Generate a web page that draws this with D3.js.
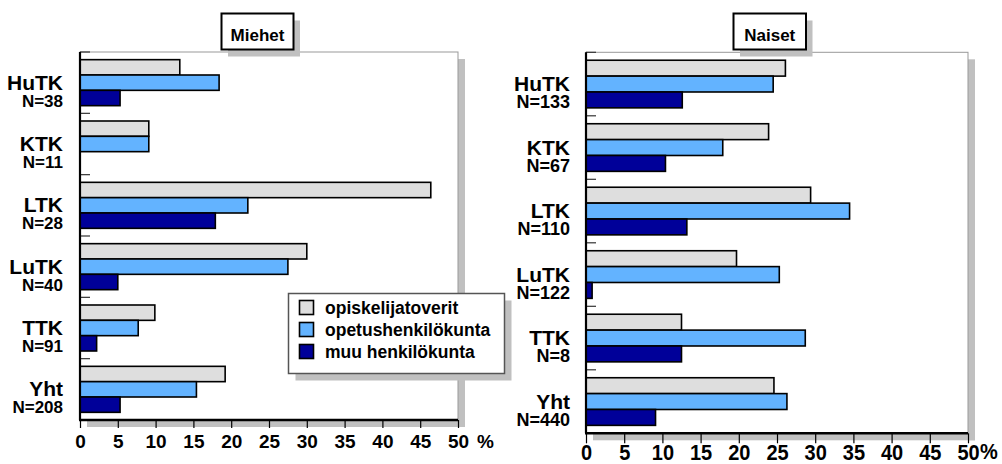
<!DOCTYPE html>
<html>
<head>
<meta charset="utf-8">
<script src="https://cdn.jsdelivr.net/npm/d3@7"></script>
<style>
  html, body { margin: 0; padding: 0; background: #fff; }
  svg { display: block; }
  text { font-family: "Liberation Sans", Arial, Helvetica, sans-serif; font-weight: bold; fill: #000; }
</style>
</head>
<body>
<svg id="chart" width="1002" height="464"></svg>
<script>
// ---- data ----
const categories = ["HuTK", "KTK", "LTK", "LuTK", "TTK", "Yht"];
const nMiehet = ["N=38", "N=11", "N=28", "N=40", "N=91", "N=208"];
const nNaiset = ["N=133", "N=67", "N=110", "N=122", "N=8", "N=440"];
const seriesNames = ["opiskelijatoverit", "opetushenkilökunta", "muu henkilökunta"];
const miehetOpiskelijat = [13.2, 9.1, 46.4, 30.0, 9.9, 19.2];
const miehetOpetus = [18.4, 9.1, 22.2, 27.5, 7.7, 15.4];
const miehetMuu = [5.3, 0, 17.9, 5.0, 2.2, 5.3];
const naisetOpiskelijat = [26.1, 23.9, 29.4, 19.7, 12.5, 24.6];
const naisetOpetus = [24.5, 17.9, 34.5, 25.3, 28.7, 26.3];
const naisetMuu = [12.6, 10.4, 13.2, 0.8, 12.5, 9.1];
const xTicks = [0, 5, 10, 15, 20, 25, 30, 35, 40, 45, 50];
const panelTitles = ["Miehet", "Naiset"];
const colors = ["#dedede", "#63b3ff", "#000099"];

const svg = d3.select("#chart");
const shadow = "#c0c0c0";

const panels = [
  { title: panelTitles[0], n: nMiehet, series: [miehetOpiskelijat, miehetOpetus, miehetMuu],
    x0: 80, x1: 458, y0: 52, y1: 420, labelX: 63,
    box: { x: 221.5, y: 13.5, w: 72, h: 36 },
    nameSize: 21, nSize: 17, tickSize: 19, tickLen: 8, tickBase: 448, pctX: 477, tickScaleY: 1 },
  { title: panelTitles[1], n: nNaiset, series: [naisetOpiskelijat, naisetOpetus, naisetMuu],
    x0: 586, x1: 968, y0: 52.3, y1: 433.3, labelX: 570,
    box: { x: 733.5, y: 13.5, w: 72.5, h: 36 },
    nameSize: 21, nSize: 18, tickSize: 20, tickLen: 10, tickBase: 459.5, pctX: 980, tickScaleY: 1.12 }
];

panels.forEach(p => {
  const g = svg.append("g");
  const x = d3.scaleLinear().domain([0, 50]).range([p.x0, p.x1]);
  const y = d3.scaleBand().domain(categories).range([p.y0, p.y1]).paddingInner(0.25).paddingOuter(0.125);
  const ySub = d3.scaleBand().domain(d3.range(3)).range([0, y.bandwidth()]);
  const step = y.step();

  // shadows
  g.append("rect").attr("x", p.x1).attr("y", p.y0 + 7).attr("width", 7).attr("height", p.y1 - p.y0)
    .attr("fill", shadow);
  g.append("rect").attr("x", p.x0 + 7).attr("y", p.y1).attr("width", p.x1 - p.x0).attr("height", 7)
    .attr("fill", shadow);
  // plot background & frame
  g.append("rect").attr("x", p.x0).attr("y", p.y0).attr("width", p.x1 - p.x0).attr("height", p.y1 - p.y0)
    .attr("fill", "#fff").attr("stroke", "#999").attr("stroke-width", 1);

  // bars
  const rows = [];
  categories.forEach((c, i) => {
    p.series.forEach((s, k) => { if (s[i] > 0) rows.push({ c, k, v: s[i] }); });
  });
  g.selectAll("rect.bar").data(rows).join("rect").attr("class", "bar")
    .attr("x", x(0))
    .attr("y", d => y(d.c) + ySub(d.k))
    .attr("width", d => x(d.v) - x(0))
    .attr("height", ySub.bandwidth())
    .attr("fill", d => colors[d.k])
    .attr("stroke", "#000").attr("stroke-width", 1.6);

  // category ticks on left axis
  g.selectAll("line.ctick").data(categories).join("line").attr("class", "ctick")
    .attr("x1", p.x0).attr("x2", p.x0 + 10)
    .attr("y1", c => y(c) - y.paddingOuter() * step).attr("y2", c => y(c) - y.paddingOuter() * step)
    .attr("stroke", "#333").attr("stroke-width", 1.2);

  // left axis line
  g.append("line").attr("x1", p.x0).attr("x2", p.x0).attr("y1", p.y0).attr("y2", p.y1)
    .attr("stroke", "#000").attr("stroke-width", 2.2);

  // category labels
  categories.forEach((c, i) => {
    const cy = y(c) + y.bandwidth() / 2;
    g.append("text").attr("x", p.labelX).attr("y", cy + 7).attr("text-anchor", "end")
      .attr("font-size", p.nameSize).text(c);
    g.append("text").attr("x", p.labelX).attr("y", cy + 24).attr("text-anchor", "end")
      .attr("font-size", p.nSize).text(p.n[i]);
  });

  // bottom axis
  const ax = g.append("g").attr("transform", `translate(0,${p.y1})`)
    .call(d3.axisBottom(x).tickValues(xTicks).tickSize(p.tickLen).tickFormat(d3.format("d")));
  ax.select(".domain").remove();
  ax.selectAll(".tick line").attr("stroke", "#000").attr("stroke-width", 1.2);
  ax.selectAll(".tick text")
    .attr("y", 0).attr("dy", null)
    .attr("transform", `translate(0,${p.tickBase - p.y1}) scale(1,${p.tickScaleY})`)
    .attr("font-size", p.tickSize).attr("font-family", null).attr("fill", "#000");
  ax.attr("font-family", null).attr("font-size", null);
  g.append("text").attr("x", p.pctX).attr("y", p.tickBase)
    .attr("transform", `translate(0,${p.tickBase}) scale(1,${p.tickScaleY}) translate(0,${-p.tickBase})`)
    .attr("font-size", p.tickSize).text("%");
  g.append("line").attr("x1", p.x0 - 1).attr("x2", p.x1).attr("y1", p.y1).attr("y2", p.y1)
    .attr("stroke", "#000").attr("stroke-width", 2.4);

  // title box
  g.append("rect").attr("x", p.box.x + 6.5).attr("y", p.box.y + 7).attr("width", p.box.w).attr("height", p.box.h)
    .attr("fill", shadow);
  g.append("rect").attr("x", p.box.x).attr("y", p.box.y).attr("width", p.box.w).attr("height", p.box.h)
    .attr("fill", "#fff").attr("stroke", "#000").attr("stroke-width", 2);
  g.append("text").attr("x", p.box.x + p.box.w / 2).attr("y", p.box.y + 27.5).attr("text-anchor", "middle")
    .attr("font-size", 17).text(p.title);
});

// legend
const lg = svg.append("g");
const L = { x: 288.5, y: 293.5, w: 216, h: 80 };
lg.append("rect").attr("x", L.x + 7).attr("y", L.y + 7).attr("width", L.w).attr("height", L.h).attr("fill", shadow);
lg.append("rect").attr("x", L.x).attr("y", L.y).attr("width", L.w).attr("height", L.h)
  .attr("fill", "#fff").attr("stroke", "#555").attr("stroke-width", 1.5);
const ly = d3.scaleBand().domain(seriesNames).range([L.y + 6, L.y + 72]);
seriesNames.forEach((s, k) => {
  lg.append("rect").attr("x", L.x + 11).attr("y", ly(s) + 1).attr("width", 14).attr("height", 14)
    .attr("fill", colors[k]).attr("stroke", "#000").attr("stroke-width", 1.6);
  lg.append("text").attr("x", L.x + 36.5).attr("y", ly(s) + 14).attr("font-size", 17.5).text(s);
});
</script>
</body>
</html>
